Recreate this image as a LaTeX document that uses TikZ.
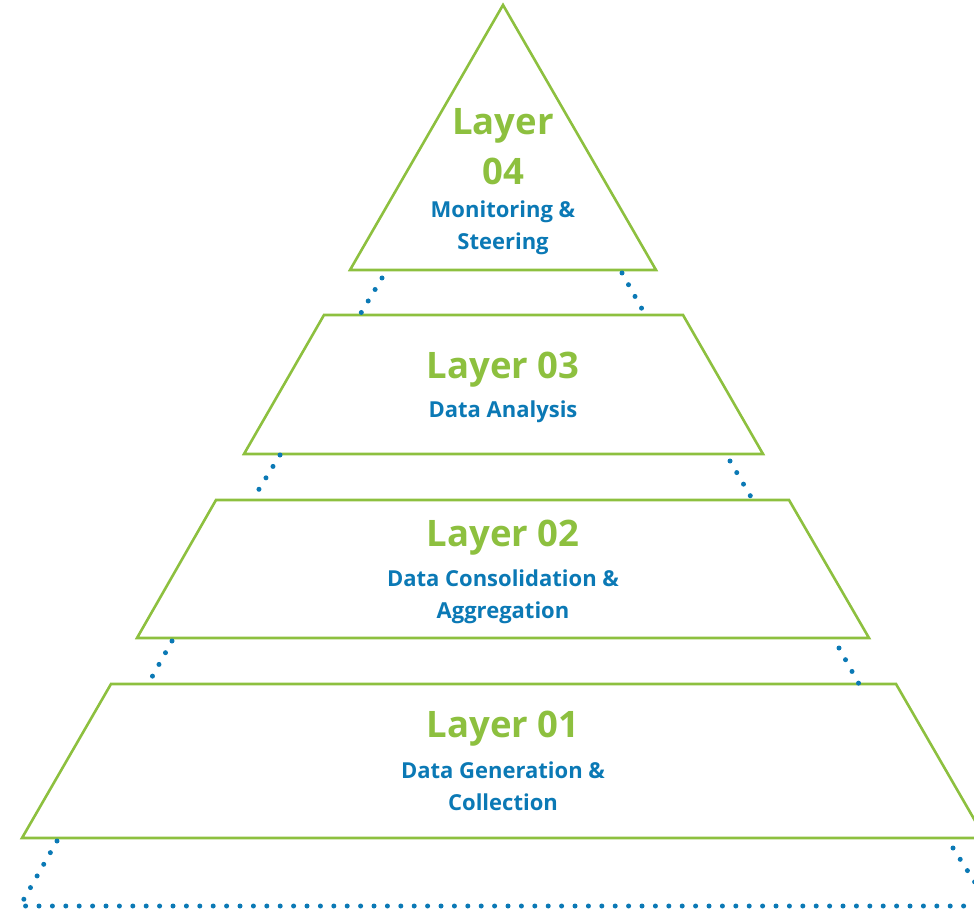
\documentclass[tikz,border=0pt]{standalone}
\usepackage{fontspec}
\setmainfont{Open Sans}
\definecolor{LayerGreen}{HTML}{8DC03F}
\definecolor{LayerBlue}{HTML}{0B79B5}

\begin{document}
\begin{tikzpicture}[x=1pt,y=-1pt,
  layer/.style={draw=LayerGreen,line width=2.6pt,line join=miter},
  dots/.style={LayerBlue,line width=5pt,line cap=round,dash pattern=on 0pt off 13.4pt},
  title/.style={LayerGreen,font=\fontsize{36.5}{50}\selectfont\bfseries,anchor=base,align=center,inner sep=0pt},
  sub/.style={LayerBlue,font=\fontsize{22}{32}\selectfont\bfseries,anchor=base,align=center,inner sep=0pt}]
\useasboundingbox (0,0) rectangle (974,909);
\clip (0,0) rectangle (974,909);

% layers, top to bottom
\draw[layer] (503,5) -- (656,270) -- (350,270) -- cycle;
\draw[layer] (324,315) -- (683,315) -- (763,454) -- (244,454) -- cycle;
\draw[layer] (216,500) -- (789,500) -- (869,638) -- (137,638) -- cycle;
\draw[layer] (111,684) -- (896,684) -- (985,838) -- (22,838) -- cycle;

% dotted links between layers
\coordinate (l4a) at (382,278); \coordinate (l3a) at (361,313);
\coordinate (r4a) at (622,273); \coordinate (r3a) at (642,309);
\coordinate (l3b) at (280,455); \coordinate (l2b) at (253,499);
\coordinate (r3b) at (730,461); \coordinate (r2b) at (751,497);
\coordinate (l2c) at (172,641); \coordinate (l1c) at (152,677);
\coordinate (r2c) at (839,648); \coordinate (r1c) at (859,684);
\coordinate (l1d) at (57,841);  \coordinate (base l) at (20,906);
\coordinate (r1d) at (953,848); \coordinate (base r) at (990,906);
\draw[dots] (l4a) -- (l3a);
\draw[dots] (r4a) -- (r3a);
\draw[dots] (l3b) -- (l2b);
\draw[dots] (r3b) -- (r2b);
\draw[dots] (l2c) -- (l1c);
\draw[dots] (r2c) -- (r1c);
\draw[dots] (l1d) -- (base l) -- (base r);
\draw[dots] (r1d) -- (base r);

% labels (base = last line)
\node[title] (t4) at (503,185) {Layer\\04};
\node[sub] (s4) at (503,250) {Monitoring \&\\Steering};
\node[title] (t3) at (503,378) {Layer 03};
\node[sub] (s3) at (503,417) {Data Analysis};
\node[title] (t2) at (503,546) {Layer 02};
\node[sub] (s2) at (503,618) {Data Consolidation \&\\Aggregation};
\node[title] (t1) at (503,737) {Layer 01};
\node[sub] (s1) at (503,810) {Data Generation \&\\Collection};
\end{tikzpicture}
\end{document}
